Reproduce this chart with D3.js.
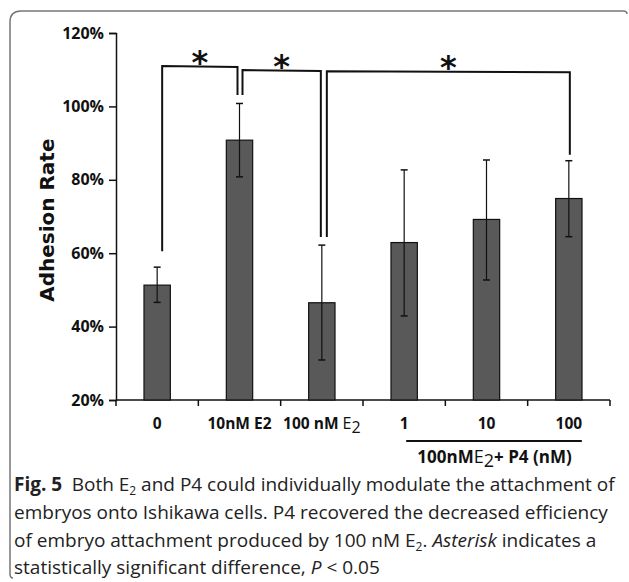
<!DOCTYPE html>
<html>
<head>
<meta charset="utf-8">
<script src="https://cdn.jsdelivr.net/npm/d3@7"></script>
<style>
  body { margin: 0; background: #fff; }
  .tick text { font-family: "Open Sans", sans-serif; font-weight: bold; font-size: 16px; fill: #111; }
  .caption { font-family: "Open Sans", "Noto Sans", sans-serif; font-size: 19px; fill: #222; }
</style>
</head>
<body>
<svg width="629" height="582"></svg>
<script>
const categories = ['0', '10nM E2', '100 nM E2', '1', '10', '100'];
const means = [51.3, 90.8, 46.5, 62.9, 69.2, 74.9];
const errHigh = [56.2, 100.8, 62.2, 82.7, 85.4, 85.2];
const errLow = [46.6, 80.8, 30.9, 42.9, 52.7, 64.5];
const yTicks = [20, 40, 60, 80, 100, 120];

// significance brackets: from bar, to bar, top level, left foot, right foot (all %)
const brackets = [
    { from: 0, to: 1, top: 111.0, left: 60.5, right: 103.1 },
    { from: 1, to: 2, top: 109.9, left: 103.1, right: 64.4 },
    { from: 2, to: 5, top: 109.6, left: 64.4, right: 86.8 }
];

const svg = d3.select('svg');

const xScale = d3.scaleBand()
    .domain(categories)
    .range([116, 610]);

const yScale = d3.scaleLinear()
    .domain([20, 120])
    .range([400, 33]);

const barWidth = xScale.bandwidth() * 0.32;
const cx = d => xScale(d) + xScale.bandwidth() / 2;

// frame
svg.append('path')
    .attr('d', 'M13,578 Q10,578 10,574 L10,22 Q10,11 21,11 L623,11 Q627,11 627,14')
    .attr('fill', 'none')
    .attr('stroke', '#777')
    .attr('stroke-width', 1.5);

// y axis
const yAxisG = svg.append('g')
    .attr('transform', 'translate(116,0)')
    .call(d3.axisLeft(yScale).tickValues(yTicks).tickSize(7).tickPadding(5).tickFormat(d => d + '%'));
yAxisG.selectAll('path, line').attr('stroke', '#111').attr('stroke-width', 1.5);

// x axis
const xAxisG = svg.append('g')
    .attr('transform', `translate(0,${yScale(20)})`);
xAxisG.append('line')
    .attr('x1', 116).attr('x2', 610)
    .attr('stroke', '#111').attr('stroke-width', 1.5);
xAxisG.selectAll('.xt')
    .data(d3.range(categories.length + 1))
    .enter().append('line')
    .attr('x1', i => 116 + i * xScale.bandwidth())
    .attr('x2', i => 116 + i * xScale.bandwidth())
    .attr('y1', 0).attr('y2', 6)
    .attr('stroke', '#111').attr('stroke-width', 1.5);

// bars
svg.selectAll('rect.bar')
    .data(categories)
    .enter().append('rect')
    .attr('class', 'bar')
    .attr('x', d => cx(d) - barWidth / 2)
    .attr('width', barWidth)
    .attr('y', (d, i) => yScale(means[i]))
    .attr('height', (d, i) => yScale(20) - yScale(means[i]))
    .attr('fill', '#595959')
    .attr('stroke', '#111')
    .attr('stroke-width', 1.2);

// error bars
const eg = svg.append('g').attr('stroke', '#111').attr('stroke-width', 1.2);
categories.forEach((c, i) => {
    eg.append('line').attr('x1', cx(c)).attr('x2', cx(c))
        .attr('y1', yScale(errHigh[i])).attr('y2', yScale(errLow[i]));
    [errHigh[i], errLow[i]].forEach(v => {
        eg.append('line').attr('x1', cx(c) - 3.5).attr('x2', cx(c) + 3.5)
            .attr('y1', yScale(v)).attr('y2', yScale(v)).attr('stroke-width', 1.5);
    });
});

// brackets
const offs = [[5, -2], [3, -1], [5, 1]];
brackets.forEach((b, i) => {
    const x1 = cx(categories[b.from]) + offs[i][0];
    const x2 = cx(categories[b.to]) + offs[i][1];
    svg.append('path')
        .attr('d', `M${x1},${yScale(b.left)} L${x1},${yScale(b.top)} L${x2},${yScale(b.top) + 1} L${x2},${yScale(b.right)}`)
        .attr('fill', 'none')
        .attr('stroke', '#111')
        .attr('stroke-width', 2);
    svg.append('text')
        .attr('x', (x1 + x2) / 2)
        .attr('y', yScale(b.top) + 7)
        .attr('text-anchor', 'middle')
        .style('font-family', '"DejaVu Sans", sans-serif')
        .style('font-weight', 'bold')
        .style('font-size', '32px')
        .attr('fill', '#111')
        .text('*');
});

// x labels
const labelFont = '"Open Sans", sans-serif';
const xl = svg.append('g')
    .style('font-family', labelFont)
    .style('font-size', '15.5px')
    .style('font-weight', 'bold')
    .attr('fill', '#111');
categories.forEach((c, i) => {
    const t = xl.append('text')
        .attr('x', cx(c))
        .attr('y', 429)
        .attr('text-anchor', 'middle');
    if (c === '100 nM E2') {
        t.append('tspan').text('100 nM ');
        t.append('tspan').style('font-weight', 'normal').style('font-size', '16px').text('E');
        t.append('tspan').style('font-weight', 'normal').style('font-size', '16px')
            .attr('dy', 4).text('2');
    } else {
        t.text(c);
    }
});

// group label under P4 bars
svg.append('line')
    .attr('x1', cx('1') + 2).attr('x2', cx('100') + 13)
    .attr('y1', 441).attr('y2', 441)
    .attr('stroke', '#111').attr('stroke-width', 2);
const gl = xl.append('text')
    .attr('x', (cx('1') + cx('100')) / 2 + 8)
    .attr('y', 463)
    .attr('text-anchor', 'middle')
    .style('font-size', '17px');
gl.append('tspan').text('100nM');
gl.append('tspan').style('font-weight', 'normal').style('font-size', '18px').text('E');
gl.append('tspan').style('font-weight', 'normal').style('font-size', '18px').attr('dy', 4).text('2');
gl.append('tspan').attr('dy', -4).text('+ P4 (nM)');

// y axis title
svg.append('text')
    .attr('transform', `translate(54,${yScale(69)}) rotate(-90)`)
    .attr('text-anchor', 'middle')
    .style('font-family', '"DejaVu Sans", sans-serif')
    .style('font-weight', 'bold')
    .style('font-size', '20px')
    .attr('fill', '#111')
    .text('Adhesion Rate');

// caption
const cap = svg.append('g').attr('class', 'caption');
const l1 = cap.append('text').attr('x', 14).attr('y', 491);
l1.append('tspan').style('font-weight', 'bold').text('Fig. 5');
l1.append('tspan').text('\u2002Both E');
l1.append('tspan').attr('dy', 4).style('font-size', '12px').text('2');
l1.append('tspan').attr('dy', -4).text(' and P4 could individually modulate the attachment of');
cap.append('text').attr('x', 14).attr('y', 519)
    .text('embryos onto Ishikawa cells. P4 recovered the decreased efficiency');
const l3 = cap.append('text').attr('x', 14).attr('y', 547);
l3.append('tspan').text('of embryo attachment produced by 100 nM E');
l3.append('tspan').attr('dy', 4).style('font-size', '12px').text('2');
l3.append('tspan').attr('dy', -4).text('. ');
l3.append('tspan').style('font-style', 'italic').text('Asterisk');
l3.append('tspan').text(' indicates a');
const l4 = cap.append('text').attr('x', 14).attr('y', 574);
l4.append('tspan').text('statistically significant difference, ');
l4.append('tspan').style('font-style', 'italic').text('P');
l4.append('tspan').text(' < 0.05');
</script>
</body>
</html>
